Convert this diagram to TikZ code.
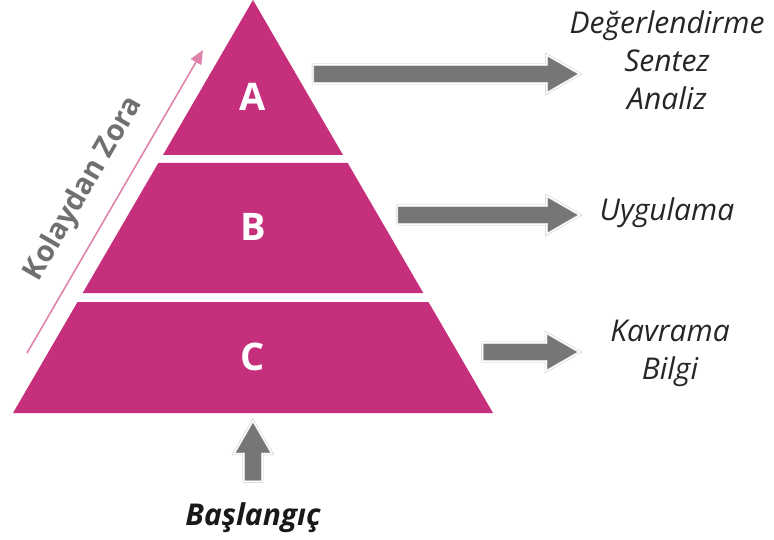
\documentclass[tikz,border=0pt]{standalone}
\usepackage{fontspec}
\setmainfont{Open Sans}
\usetikzlibrary{arrows.meta,shapes.arrows}
\definecolor{pyrmag}{RGB}{198,47,123}
\definecolor{uppink}{RGB}{222,132,172}
\definecolor{arrgray}{RGB}{118,118,118}
\definecolor{txtgray}{RGB}{112,112,112}

\begin{document}
\begin{tikzpicture}[x=1pt, y=-1pt, line join=miter]

  \useasboundingbox (0,0) rectangle (774,540);
  \tikzstyle{layer}=[fill=pyrmag]
  \tikzstyle{letter}=[text=white, font=\fontsize{38}{38}\selectfont\bfseries]
  \tikzstyle{blockarrow}=[single arrow, fill=arrgray, draw=gray!45, double=white,
    double distance=1.4pt, line width=0.5pt, inner xsep=0pt, inner ysep=9pt,
    single arrow head extend=10pt, single arrow head indent=0pt,
    single arrow tip angle=60, minimum width=38pt]
  \tikzstyle{level}=[font=\fontsize{30}{38}\selectfont\itshape, align=center, text=black!85]
  \def\apx{253}
  \def\base{413}

  % pyramid layers
  \fill[layer] (\apx,0) -- (343,155) -- (163,155) -- cycle;
  \fill[layer] (158.3,163) -- (347.7,163) -- (423.3,293) -- (82.7,293) -- cycle;
  \fill[layer] (77.5,302) -- (428.5,302) -- (493,\base) -- (13,\base) -- cycle;

  \node[letter] (A) at (\apx,97) {A};
  \node[letter] (B) at (\apx,227) {B};
  \node[letter] (C) at (\apx,357) {C};

  % easy to hard
  \coordinate (easy) at (27,353);
  \coordinate (hard) at (203,50);
  \draw[uppink, line width=1.6pt, -{Triangle[length=14pt,width=12pt]}] (easy) -- (hard);
  \node[rotate=60, text=txtgray, font=\fontsize{29}{29}\selectfont\bfseries] (dir) at (84,189) {Kolaydan Zora};

  % arrows
  \node[blockarrow, minimum height=267pt] (toA) at (438.5,74) {};
  \node[blockarrow, minimum height=183pt] (toB) at (480.5,215) {};
  \node[blockarrow, minimum height=97pt] (toC) at (523,352) {};
  \node[blockarrow, minimum height=61pt, rotate=90] (up) at (\apx,459) {};

  \node[level] (high) at (667,60) {Değerlendirme\\Sentez\\Analiz};
  \node[level] (mid) at (667,213) {Uygulama};
  \node[level] (low) at (670,353) {Kavrama\\Bilgi};
  \node[font=\fontsize{30}{30}\selectfont\bfseries\itshape, text=black!90] (start) at (\apx,518) {Başlangıç};

\end{tikzpicture}
\end{document}
